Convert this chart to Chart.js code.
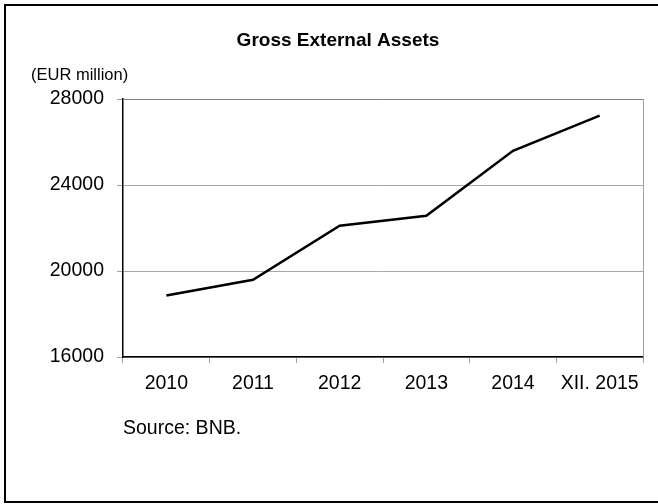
<!DOCTYPE html>
<html>
<head>
<meta charset="utf-8">
<title>Gross External Assets</title>
<script src="https://cdn.jsdelivr.net/npm/chart.js@4/dist/chart.umd.min.js"></script>
<style>
  html, body { margin: 0; padding: 0; background: #fff; }
  #assets { display: block; }
</style>
</head>
<body>
<canvas id="assets" width="658" height="504"></canvas>
<script>
// gross external assets, EUR million
const years = ['2010', '2011', '2012', '2013', '2014', 'XII. 2015'];
const assets = [18860, 19590, 22110, 22570, 25590, 27230];
const yTicks = [16000, 20000, 24000, 28000];

const FONT = '"Liberation Sans", Arial, sans-serif';

// title, unit note, source line and the outer frame
const decorations = {
  id: 'decorations',
  afterDraw(chart) {
    const ctx = chart.ctx;
    const area = chart.chartArea;
    ctx.save();
    ctx.fillStyle = '#000';
    ctx.textBaseline = 'middle';

    ctx.font = 'bold 19px ' + FONT;
    ctx.textAlign = 'center';
    ctx.fillText('Gross External Assets', 338, 41);

    ctx.font = '16.5px ' + FONT;
    ctx.textAlign = 'left';
    ctx.fillText('(EUR million)', 31, 75);

    ctx.font = '19.5px ' + FONT;
    ctx.fillText('Source: BNB.', 123, 429);

    // right edge of the plot
    ctx.strokeStyle = '#a0a0a0';
    ctx.lineWidth = 1;
    ctx.beginPath();
    ctx.moveTo(area.right + 0.5, area.top);
    ctx.lineTo(area.right + 0.5, area.bottom);
    ctx.stroke();

    // frame
    ctx.strokeStyle = '#000';
    ctx.lineWidth = 2;
    ctx.strokeRect(5, 5, 660, 497);
    ctx.restore();
  }
};

new Chart(document.getElementById('assets'), {
  type: 'line',
  data: {
    labels: years,
    datasets: [{
      data: assets,
      borderColor: '#000',
      borderWidth: 2.5,
      pointRadius: 0,
      tension: 0,
      fill: false
    }]
  },
  options: {
    responsive: false,
    animation: false,
    layout: { padding: { left: 0, top: 99, right: 15, bottom: 0 } },
    plugins: {
      legend: { display: false },
      tooltip: { enabled: false }
    },
    scales: {
      x: {
        offset: true,
        grid: {
          offset: true,
          drawOnChartArea: false,
          drawTicks: true,
          tickLength: 6,
          tickColor: '#a0a0a0'
        },
        border: { color: '#000', width: 1.5 },
        ticks: {
          color: '#000',
          font: { family: FONT, size: 19.5 },
          padding: 9,
          maxRotation: 0,
          autoSkip: false
        },
        afterFit(scale) { scale.height = 147; }
      },
      y: {
        min: 16000,
        max: 28000,
        afterBuildTicks(scale) {
          scale.ticks = yTicks.map(v => ({ value: v }));
        },
        grid: {
          color: ctx => ctx.tick && ctx.tick.value === 28000 ? '#808080' : '#a8a8a8',
          tickColor: '#a0a0a0',
          tickLength: 6,
          lineWidth: 1
        },
        border: { color: '#000', width: 1.5 },
        ticks: {
          color: '#000',
          font: { family: FONT, size: 19.5 },
          padding: 13,
          callback: v => String(v)
        },
        afterFit(scale) { scale.width = 123; }
      }
    }
  },
  plugins: [decorations]
});
</script>
</body>
</html>
